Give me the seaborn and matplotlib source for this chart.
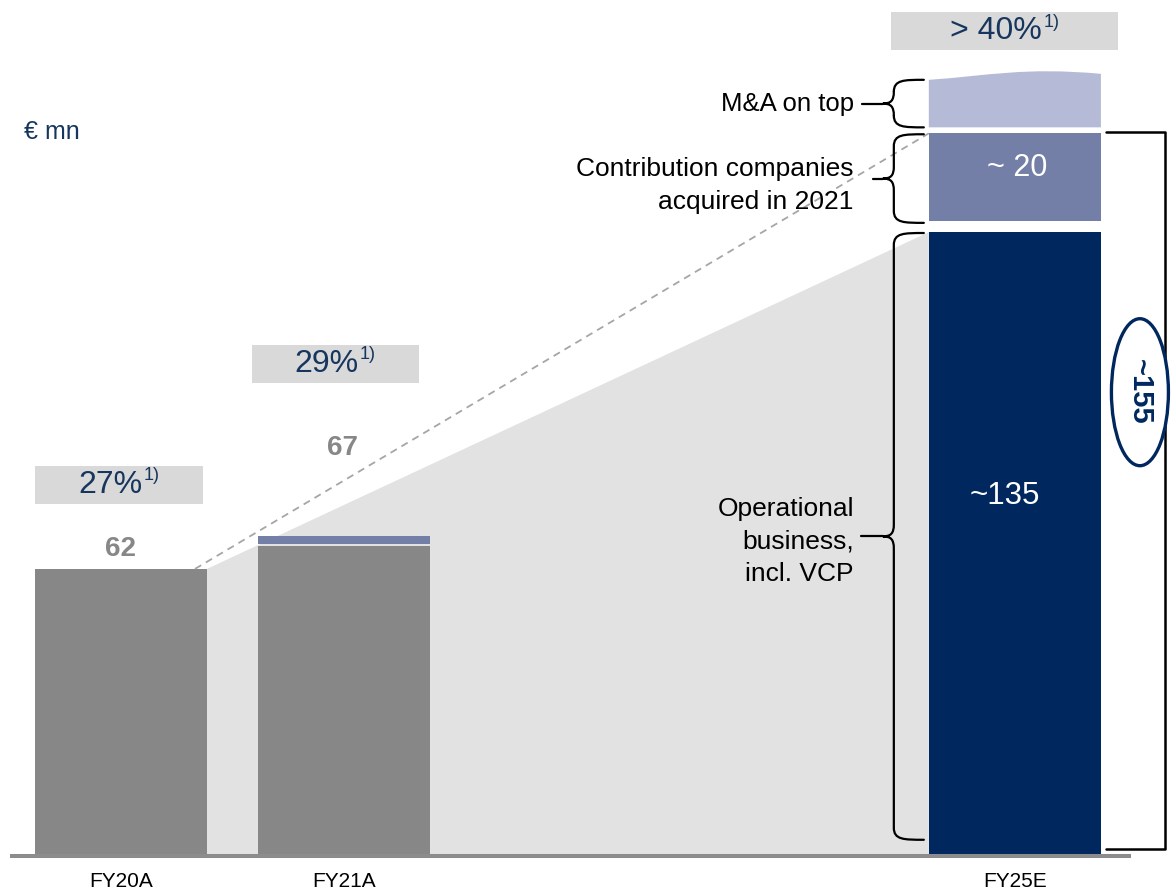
import matplotlib
matplotlib.use("Agg")
import matplotlib.pyplot as plt
import matplotlib.patches as mpatches
from matplotlib.path import Path
from matplotlib import transforms
import pandas as pd
import seaborn as sns

# data (EUR mn)
years = ["FY20A", "FY21A", "FY25E"]
year_pos = [0, 1, 4]
base_values = [62, 67, 135]
value_labels = ["62", "67"]
fy21_acquired = 1.7
fy25_contrib = 19
fy25_mna_low = 10.3
fy25_mna_high = 12.5
margins = ["27%", "29%", "> 40%"]
margin_note = "1)"
contrib_label = "~ 20"
ops_label = "~135"
total_label = "~155"

GRAY = "#878787"
NAVY = "#00285F"
MID = "#737FA6"
LIGHT = "#B5BBD6"
BOX = "#D9D9D9"
WEDGE = "#E2E2E2"
TXT_NAVY = "#17365D"

sns.set_style("white")
plt.rcParams["font.family"] = ["Liberation Sans", "DejaVu Sans"]
plt.rcParams["text.color"] = "black"
plt.rcParams["xtick.color"] = "black"

fig = plt.figure(figsize=(11.74, 8.91), dpi=100)
ax = fig.add_axes([0, 36 / 891, 1, 855 / 891])
XMIN, XMAX = -0.541, 4.712
YMAX = 185.3
XS = 1174 / (XMAX - XMIN)   # px per x unit
YS = 855 / YMAX              # px per y unit


def dx(p):
    return p / XS


def dy(p):
    return p / YS


W = 0.77
df = pd.DataFrame({"pos": year_pos, "value": base_values, "year": years})
sns.barplot(data=df, x="pos", y="value", hue="year", palette=[GRAY, GRAY, NAVY],
            native_scale=True, width=W, saturation=1, legend=False,
            errorbar=None, linewidth=0, ax=ax, zorder=2)

x0r = year_pos[0] + W / 2
x2l = year_pos[2] - W / 2
x2r = year_pos[2] + W / 2

# growth wedge behind the bars
ax.fill([x0r, x2l, x2l, x0r], [base_values[0], base_values[2], 0, 0],
        color=WEDGE, zorder=0, lw=0)

# FY21A acquired strip
ax.bar(year_pos[1], fy21_acquired, bottom=base_values[1] + 0.4, width=W,
       color=MID, zorder=2, lw=0)

# FY25E stacked parts
c_bot = base_values[2] + 2.4
ax.bar(year_pos[2], fy25_contrib, bottom=c_bot, width=W, color=MID, zorder=2, lw=0)
m_bot = c_bot + fy25_contrib + 1.3
xl, xr = x2l, x2r
wd = xr - xl
verts = [(xl, m_bot), (xl, m_bot + fy25_mna_low),
         (xl + 0.35 * wd, m_bot + fy25_mna_low + 0.9),
         (xl + 0.55 * wd, m_bot + fy25_mna_high + 0.6),
         (xr, m_bot + fy25_mna_high - 0.9),
         (xr, m_bot), (xl, m_bot)]
codes = [Path.MOVETO, Path.LINETO, Path.CURVE4, Path.CURVE4, Path.CURVE4,
         Path.LINETO, Path.CLOSEPOLY]
ax.add_patch(mpatches.PathPatch(Path(verts, codes), color=LIGHT, lw=0, zorder=2))

# dashed guide
ax.plot([x0r - dx(12), x2l], [base_values[0], c_bot + fy25_contrib],
        ls=(0, (4, 3)), color="#A6A6A6", lw=1.3, zorder=3)

# value labels
ax.text(year_pos[0], base_values[0] + 4.4, value_labels[0], ha="center", va="center",
        fontsize=20, fontweight="bold", color=GRAY)
ax.text(year_pos[1] - dx(2), base_values[1] + 21.2, value_labels[1], ha="center",
        va="center", fontsize=20, fontweight="bold", color=GRAY)
ax.text(year_pos[2] - dx(10), dy(855 - 496), ops_label, ha="center", va="center",
        fontsize=22.5, color="white", zorder=4)
ax.text(year_pos[2] + dx(2), dy(855 - 168), contrib_label, ha="center",
        va="center", fontsize=22, color="white", zorder=4)

# margin boxes
renderer = fig.canvas.get_renderer()
box_cx = [year_pos[0] - dx(2), year_pos[1] - dx(9), year_pos[2] - dx(10)]
box_w = [dx(168), dx(167), dx(227)]
box_y = [76.1, 102.3, 174.4]
for cx, bw, by, m in zip(box_cx, box_w, box_y, margins):
    ax.add_patch(mpatches.Rectangle((cx - bw / 2, by), bw, dy(38), color=BOX, lw=0, zorder=1))
    cy = by + dy(19)
    t1 = ax.text(cx, cy, m, ha="left", va="center", fontsize=23, color=TXT_NAVY, zorder=4)
    t2 = ax.text(cx, cy + dy(9), margin_note, ha="left", va="center", fontsize=13,
                 color=TXT_NAVY, zorder=4)
    w1 = t1.get_window_extent(renderer).width
    w2 = t2.get_window_extent(renderer).width
    total = w1 + w2 + 1
    t1.set_transform(ax.transData + transforms.ScaledTranslation(-total / 2 / 100, 0, fig.dpi_scale_trans))
    t2.set_transform(ax.transData + transforms.ScaledTranslation((w1 + 1 - total / 2) / 100, 0, fig.dpi_scale_trans))


# curly braces left of FY25E
def brace(y0, y1, lead=22):
    xr_ = x2l - dx(5)
    xs = xr_ - dx(30)
    xt = xs - dx(11)
    ym = (y0 + y1) / 2
    r = dy(12)
    v = [(xr_, y1), (xs + dx(10), y1), (xs, y1), (xs, y1 - r),
         (xs, ym + r),
         (xs, ym + dy(3)), (xs - dx(3), ym), (xt, ym),
         (xs - dx(3), ym), (xs, ym - dy(3)), (xs, ym - r),
         (xs, y0 + r),
         (xs, y0), (xs + dx(10), y0), (xr_, y0)]
    c = [Path.MOVETO, Path.CURVE4, Path.CURVE4, Path.CURVE4, Path.LINETO,
         Path.CURVE4, Path.CURVE4, Path.CURVE4, Path.CURVE4, Path.CURVE4, Path.CURVE4,
         Path.LINETO, Path.CURVE4, Path.CURVE4, Path.CURVE4]
    ax.add_patch(mpatches.PathPatch(Path(v, c), fill=False, lw=1.6, ec="black",
                                    zorder=3, capstyle="round"))
    ax.plot([xt, xt - dx(lead)], [ym, ym], color="black", lw=1.6, zorder=3)
    return xt - dx(29), ym


lx, ly = brace(m_bot, m_bot + fy25_mna_low, lead=21)
ax.text(lx, ly, "M&A on top", ha="right", va="center", fontsize=18.5)
lx, ly = brace(c_bot - 0.4, c_bot + fy25_contrib - 0.2, lead=10)
ax.text(lx, ly - dy(7), "Contribution companies\nacquired in 2021", ha="right",
        va="center", fontsize=19, linespacing=1.45, zorder=4)
lx, ly = brace(3.3, base_values[2] - 0.2, lead=22)
ax.text(lx, ly - dy(5), "Operational\nbusiness,\nincl. VCP", ha="right", va="center",
        fontsize=19, linespacing=1.45, zorder=4)

# total bracket + ellipse
ya, yb = c_bot + fy25_contrib + 0.4, dy(6)
ax.plot([x2r + dx(5), x2r + dx(64), x2r + dx(64), x2r + dx(5)], [ya, ya, yb, yb],
        color="black", lw=1.8, zorder=3, clip_on=False)
ax.add_patch(mpatches.Ellipse((x2r + dx(39), 100.3), dx(57), dy(147), fc="white",
                              ec=NAVY, lw=2.4, zorder=5, clip_on=False))
ax.text(x2r + dx(39), 100.3, total_label, rotation=270, ha="center", va="center",
        fontsize=21, fontweight="bold", color=NAVY, zorder=6)

# unit label
ax.text(XMIN + dx(24), dy(855 - 132), "€ mn", ha="left", va="center", fontsize=18, color=TXT_NAVY)

# baseline
ax.plot([XMIN + dx(10), XMIN + dx(1131)], [-dy(1), -dy(1)], color="#8C8C8C", lw=2.9,
        zorder=3, clip_on=False, solid_capstyle="butt")

ax.set_xlim(XMIN, XMAX)
ax.set_ylim(0, YMAX)
ax.set_xticks(year_pos, years)
ax.tick_params(axis="x", length=0, pad=12)
for lab in ax.get_xticklabels():
    lab.set_fontsize(15)
ax.set_yticks([])
ax.set_xlabel("")
ax.set_ylabel("")
sns.despine(ax=ax, left=True, bottom=True)

fig.savefig("out.png", dpi=100)
